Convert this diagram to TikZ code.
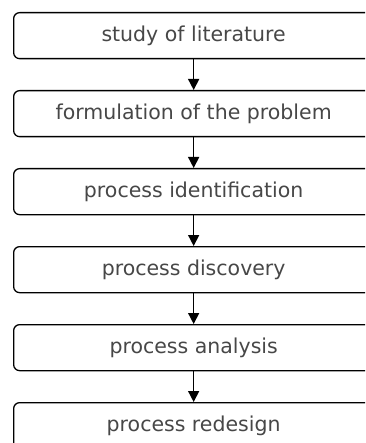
\documentclass[tikz,border=0pt]{standalone}
\usepackage{fontspec}
\setmainfont{DejaVu Sans}
\usetikzlibrary{arrows.meta}
\begin{document}
\begin{tikzpicture}[x=1pt,y=-1pt,
  stepbox/.style={draw=black, line width=1.3pt, rounded corners=6pt,
    minimum width=360pt, minimum height=46pt, inner sep=0pt,
    text=black!72, font=\fontsize{20.5}{24}\selectfont, anchor=north west},
  flow/.style={line width=1.5pt, -{Triangle[length=11pt,width=11pt]}}]
\useasboundingbox (0,0) rectangle (365,443);
\clip (0,0) rectangle (365,443);
\node[stepbox] (s1) at (13,12) {study of literature};
\node[stepbox] (s2) at (13,90) {formulation of the problem};
\node[stepbox] (s3) at (13,168) {process identification};
\node[stepbox] (s4) at (13,246) {process discovery};
\node[stepbox] (s5) at (13,324) {process analysis};
\node[stepbox] (s6) at (13,402) {process redesign};
\draw[flow] (s1.south) -- (s2.north);
\draw[flow] (s2.south) -- (s3.north);
\draw[flow] (s3.south) -- (s4.north);
\draw[flow] (s4.south) -- (s5.north);
\draw[flow] (s5.south) -- (s6.north);
\end{tikzpicture}
\end{document}
